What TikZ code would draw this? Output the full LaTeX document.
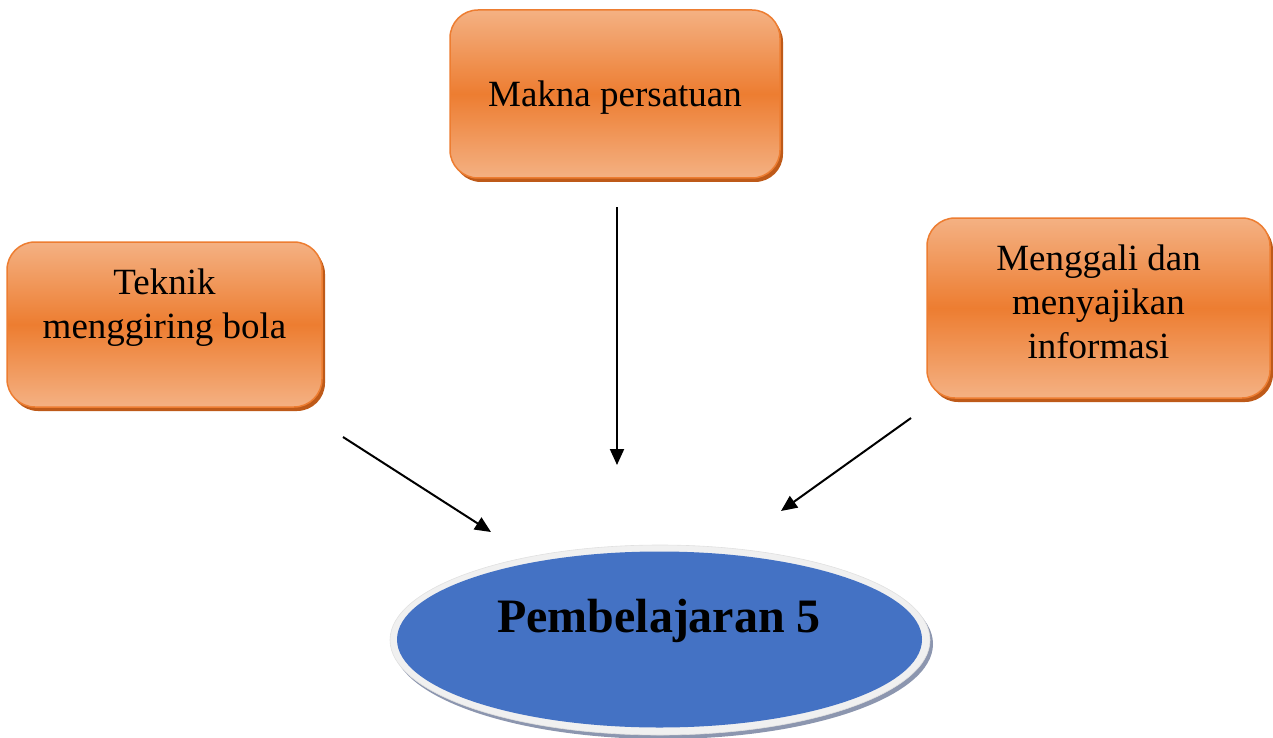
\documentclass[tikz,border=0pt]{standalone}
\usepackage{fontspec}
\setmainfont{Liberation Serif}
\usetikzlibrary{shadows,arrows.meta,shapes.geometric}
\definecolor{olight}{RGB}{244,177,131}
\definecolor{omid}{RGB}{237,125,49}
\definecolor{oshadow}{RGB}{190,90,25}
\definecolor{eblue}{RGB}{68,114,196}
\definecolor{erim}{RGB}{240,240,240}
\definecolor{eshadow}{RGB}{140,150,175}
\tikzset{
  obox/.style={draw=omid, line width=1.5pt, rounded corners=28pt,
    top color=olight, bottom color=olight, middle color=omid,
    general shadow={fill=oshadow, shadow xshift=3pt, shadow yshift=-4pt}},
  otext/.style={font=\fontsize{37}{44}\selectfont, align=center, anchor=base, inner sep=0pt},
  arr/.style={line width=2pt, -{Triangle[length=16pt,width=14pt]}},
}
\begin{document}
\begin{tikzpicture}[x=1pt,y=-1pt]
\useasboundingbox (0,0) rectangle (1273,738);
% boxes
\node[obox, minimum width=330pt, minimum height=168pt] (top) at (615,94) {};
\node[otext] (toptext) at (615,107) {Makna persatuan};
\node[obox, minimum width=315pt, minimum height=165pt] (left) at (164.5,324.5) {};
\node[otext] (lefttext) at (164.5,338) {Teknik\\menggiring bola};
\node[obox, minimum width=343pt, minimum height=180pt] (right) at (1098.5,308) {};
\node[otext] (righttext) at (1098.5,358) {Menggali dan\\menyajikan\\informasi};
% ellipse
\fill[eshadow] (663,644) ellipse [x radius=270, y radius=95];
\node[ellipse, fill=erim, draw=black!12, line width=0.6pt, minimum width=540pt, minimum height=190pt, inner sep=0pt] (rim) at (660,640) {};
\node[ellipse, fill=eblue, minimum width=525pt, minimum height=176pt, inner sep=0pt] (main) at (659.5,639.5) {};
\node[font=\fontsize{48}{52}\selectfont\bfseries, anchor=base, inner sep=0pt] (maintext) at (659,632) {Pembelajaran 5};
% arrow coordinates
\coordinate (a1s) at (617,207);
\coordinate (a1e) at (617,465);
\coordinate (a2s) at (343,437);
\coordinate (a2e) at (491,532);
\coordinate (a3s) at (911,418);
\coordinate (a3e) at (781,511);
\draw[arr] (a1s) -- (a1e);
\draw[arr] (a2s) -- (a2e);
\draw[arr] (a3s) -- (a3e);
\end{tikzpicture}
\end{document}
